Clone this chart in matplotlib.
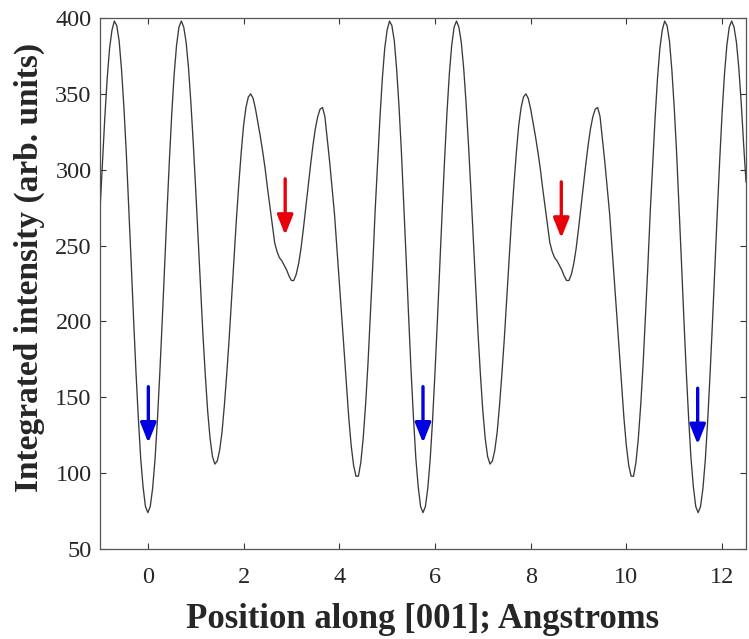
import matplotlib
matplotlib.use('Agg')
import matplotlib.pyplot as plt
import numpy as np

# integrated intensity every 0.05 A from -1.00 to 12.50
intensity = [
    273, 304, 334, 360, 380, 392, 398, 395, 385, 366,   # -1.00 .. -0.55
    341, 311, 276, 240, 203, 168, 137, 110, 91, 78,     # -0.50 .. -0.05
    74, 78, 90, 109, 135, 166, 200, 236, 272, 306,      #  0.00 ..  0.45
    337, 363, 382, 394, 398, 394, 384, 367, 344, 317,   #  0.50 ..  0.95
    287, 255, 223, 192, 165, 141, 123, 111, 106, 108,   #  1.00 ..  1.45
    115, 127, 145, 166, 189, 215, 241, 267, 290, 311,   #  1.50 ..  1.95
    329, 341, 348, 350, 347, 340, 331, 322, 312, 301,   #  2.00 ..  2.45
    288, 276, 264, 252, 246, 242, 240, 237, 234, 230,   #  2.50 ..  2.95
    227, 227, 231, 238, 248, 261, 275, 289, 303, 316,   #  3.00 ..  3.45
    327, 335, 340, 341, 335, 320, 305, 288, 271, 249,   #  3.50 ..  3.95
    226, 204, 181, 158, 136, 118, 105, 98, 98, 107,     #  4.00 ..  4.45
    123, 145, 172, 204, 237,                            #  4.50 ..  4.70
    273, 304, 334, 360, 380, 392, 398, 395, 385, 366,   #  4.75 ..  5.20
    341, 311, 276, 240, 203, 168, 137, 110, 91, 78,     #  5.25 ..  5.70
    74, 78, 90, 109, 135, 166, 200, 236, 272, 306,      #  5.75 ..  6.20
    337, 363, 382, 394, 398, 394, 384, 367, 344, 317,   #  6.25 ..  6.70
    287, 255, 223, 192, 165, 141, 123, 111, 106, 108,   #  6.75 ..  7.20
    115, 127, 145, 166, 189, 215, 241, 267, 290, 311,   #  7.25 ..  7.70
    329, 341, 348, 350, 347, 340, 331, 322, 312, 301,   #  7.75 ..  8.20
    288, 276, 264, 252, 246, 242, 240, 237, 234, 230,   #  8.25 ..  8.70
    227, 227, 231, 238, 248, 261, 275, 289, 303, 316,   #  8.75 ..  9.20
    327, 335, 340, 341, 335, 320, 305, 288, 271, 249,   #  9.25 ..  9.70
    226, 204, 181, 158, 136, 118, 105, 98, 98, 107,     #  9.75 .. 10.20
    123, 145, 172, 204, 237,                            # 10.25 .. 10.45
    273, 304, 334, 360, 380, 392, 398, 395, 385, 366,   # 10.50 .. 10.95
    341, 311, 276, 240, 203, 168, 137, 110, 91, 78,     # 11.00 .. 11.45
    74, 78, 90, 109, 135, 166, 200, 236, 272, 306,      # 11.50 .. 11.95
    337, 363, 382, 394, 398, 394, 384, 367, 344, 317,   # 12.00 .. 12.45
    292,                                                # 12.50
]
pos_first, pos_last = -1.0, 12.5

# arrows marking the sites (x, tail value, head value)
red_x = [2.87, 8.64]
red_tail = [294, 292]
red_head = [257, 255]
blue_x = [0.01, 5.75, 11.49]
blue_tail = [157, 157, 156]
blue_head = [120, 120, 119]

xticks = [0, 2, 4, 6, 8, 10, 12]
yticks = [50, 100, 150, 200, 250, 300, 350, 400]

plt.rcParams['font.family'] = ['Liberation Serif', 'DejaVu Serif']

position = np.linspace(pos_first, pos_last, len(intensity))

fig = plt.figure(figsize=(7.49, 6.39), dpi=100)
ax = fig.add_axes([0.1335, 0.1408, 0.8625, 0.831])

ax.plot(position, intensity, color='#3a3a3a', linewidth=0.95)

def draw_arrows(xs, tails, heads, col):
    for x, t, h in zip(xs, tails, heads):
        ax.annotate('', xy=(x, h), xytext=(x, t),
                    arrowprops=dict(arrowstyle='-|>,head_length=1.2,head_width=0.48',
                                    mutation_scale=10, lw=2.4, color=col,
                                    shrinkA=0, shrinkB=0))

draw_arrows(red_x, red_tail, red_head, '#e8000b')
draw_arrows(blue_x, blue_tail, blue_head, '#0000e0')

ax.set_xlim(pos_first, pos_last)
ax.set_ylim(50, 400)
ax.set_xticks(xticks)
ax.set_yticks(yticks)
ax.tick_params(direction='in', top=True, right=True, length=4.5, width=0.8,
               labelsize=17.5, colors='#333333', labelcolor='#262626')
ax.tick_params(axis='x', pad=13)
ax.tick_params(axis='y', pad=6)
for s in ax.spines.values():
    s.set_color('#555555')
    s.set_linewidth(0.9)

ax.set_xlabel('Position along [001]; Angstroms', fontsize=25, fontweight='bold',
              color='#262626', labelpad=11)
ax.set_ylabel('Integrated intensity (arb. units)', fontsize=24, fontweight='bold',
              color='#262626')
ax.yaxis.set_label_coords(-0.085, 0.53)

fig.savefig('out.png', dpi=100)
